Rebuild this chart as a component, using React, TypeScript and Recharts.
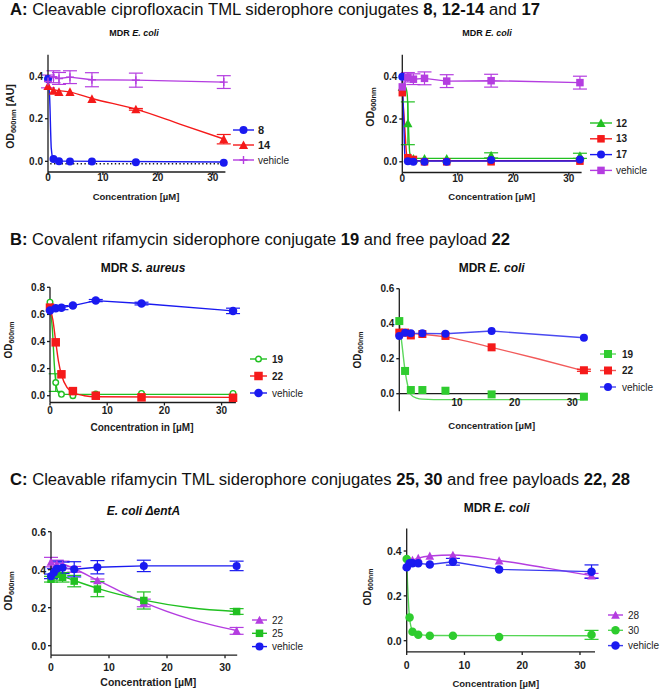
import { ComposedChart, Line, Scatter, XAxis, YAxis, ErrorBar, Legend, ReferenceLine } from "recharts";

const FONT = "'Liberation Sans', Arial, Helvetica, sans-serif";
const BLUE = "#1a1af0";
const RED = "#f51a1a";
const GREEN = "#21c021";
const PURPLE = "#b43de0";
const INK = "#1c1c1c";

// concentrations in µM
const CONC = [0, 1, 2, 4, 8, 16, 32];
const CONC_C = [0, 0.5, 1, 2, 4, 8, 16, 32];

// A left: MDR E. coli
const A1_8 = [0.386, 0.011, 0.0, -0.001, -0.001, -0.004, -0.007];
const A1_14 = [0.353, 0.331, 0.326, 0.326, 0.293, 0.244, 0.104];
const A1_14_ERR = [0, 0, 0, 0, 0, 0.004, 0.022];
const A1_VEH = [0.375, 0.397, 0.389, 0.395, 0.383, 0.381, 0.372];
const A1_VEH_ERR = [0.03, 0.028, 0.028, 0.03, 0.033, 0.033, 0.03];
const A1_FIT_8 = [[0, 0.386], [0.3, 0.3], [0.6, 0.06], [1, 0.006], [2, 0.001], [32, -0.003]];
const A1_DOT_8 = [[0.4, -0.011], [32, -0.011]];
const A1_FIT_14 = [[0, 0.34], [2, 0.332], [4, 0.325], [8, 0.295], [16, 0.245], [24, 0.175], [32, 0.105]];

// A right: MDR E. coli
const A2_12 = [0.35, 0.18, 0.015, 0.015, 0.015, 0.03, 0.028];
const A2_12_ERR = [0, 0.1, 0, 0, 0, 0.012, 0.012];
const A2_13 = [0.323, 0.019, 0.011, 0.0, 0.0, 0.0, 0.003];
const A2_17 = [0.397, 0.003, 0.0, 0.0, 0.0, 0.008, 0.011];
const A2_VEH = [0.35, 0.395, 0.386, 0.39, 0.377, 0.379, 0.37];
const A2_VEH_ERR = [0, 0.022, 0.025, 0.03, 0.03, 0.03, 0.03];
const A2_FIT_12 = [[0, 0.355], [0.6, 0.348], [0.9, 0.31], [1.1, 0.17], [1.35, 0.04], [2, 0.016], [32, 0.016]];
const A2_FIT_13 = [[0, 0.33], [0.4, 0.18], [0.75, 0.04], [1, 0.012], [2, 0.005], [32, 0.005]];
const A2_FIT_17 = [[0, 0.392], [0.25, 0.2], [0.5, 0.015], [1, 0.004], [32, 0.004]];

// B left: MDR S. aureus
const B1_19 = [0.69, 0.097, 0.01, 0.0, 0.012, 0.017, 0.017];
const B1_19_ERR = [0, 0.065, 0, 0, 0, 0, 0];
const B1_22 = [0.65, 0.394, 0.158, 0.034, 0.0, -0.012, -0.015];
const B1_VEH = [0.628, 0.645, 0.65, 0.665, 0.702, 0.68, 0.626];
const B1_VEH_ERR = [0, 0, 0.015, 0, 0.008, 0.01, 0.02];
const B1_FIT_19 = [[0, 0.665], [0.4, 0.5], [0.8, 0.2], [1.2, 0.05], [1.6, 0.015], [2.2, 0.01], [32, 0.01]];
const B1_FIT_22 = [[0, 0.645], [0.5, 0.56], [1, 0.4], [1.5, 0.25], [2, 0.155], [3, 0.06], [4, 0.025], [6, 0.0], [8, -0.008], [32, -0.012]];

// B right: MDR E. coli
const B2_19 = [0.415, 0.13, 0.021, 0.021, 0.017, -0.004, -0.017];
const B2_22 = [0.349, 0.349, 0.333, 0.341, 0.33, 0.265, 0.134];
const B2_22_ERR = [0, 0, 0, 0, 0, 0, 0.006];
const B2_VEH = [0.33, 0.349, 0.345, 0.345, 0.343, 0.358, 0.32];
const B2_FIT_19 = [[0, 0.41], [0.5, 0.27], [1, 0.13], [1.5, 0.04], [2, -0.005], [3, -0.025], [4, -0.031], [8, -0.034], [32, -0.034]];
const B2_FIT_22 = [[0, 0.347], [4, 0.34], [8, 0.325], [16, 0.265], [24, 0.2], [32, 0.13]];

// C left: E. coli ΔentA
const C1_22 = [0.44, 0.43, 0.425, 0.402, 0.343, 0.225, 0.078];
const C1_22_ERR = [0.025, 0.02, 0.02, 0.015, 0.008, 0.02, 0.018];
const C1_25 = [0.35, 0.375, 0.36, 0.34, 0.298, 0.238, 0.18];
const C1_25_ERR = [0.015, 0.03, 0.025, 0.03, 0.04, 0.045, 0.015];
const C1_VEH = [0.365, 0.385, 0.405, 0.41, 0.402, 0.413, 0.42, 0.42];
const C1_VEH_ERR = [0.012, 0.02, 0.04, 0.03, 0.04, 0.035, 0.03, 0.025];
const C1_FIT_22 = [[0, 0.44], [2, 0.43], [4, 0.405], [8, 0.345], [12, 0.285], [16, 0.228], [24, 0.14], [32, 0.08]];
const C1_FIT_25 = [[0, 0.38], [2, 0.365], [4, 0.343], [8, 0.302], [16, 0.24], [24, 0.2], [32, 0.18]];

// C right: MDR E. coli
const C2_28 = [0.335, 0.355, 0.36, 0.368, 0.378, 0.382, 0.357, 0.29];
const C2_28_ERR = [0, 0, 0, 0, 0, 0, 0, 0.01];
const C2_30 = [0.364, 0.104, 0.04, 0.027, 0.022, 0.022, 0.016, 0.026];
const C2_30_ERR = [0, 0, 0, 0, 0, 0, 0, 0.02];
const C2_VEH = [0.328, 0.345, 0.345, 0.345, 0.34, 0.352, 0.318, 0.308];
const C2_VEH_ERR = [0, 0, 0, 0, 0, 0.015, 0, 0.03];
const C2_FIT_28 = [[0, 0.34], [1, 0.358], [2, 0.368], [4, 0.378], [8, 0.382], [16, 0.358], [24, 0.325], [32, 0.29]];
const C2_FIT_30 = [[0, 0.362], [0.15, 0.25], [0.35, 0.15], [0.5, 0.1], [1, 0.045], [2, 0.028], [4, 0.023], [32, 0.022]];

type Pt = { x: number; y: number; e?: number };
type Shape = "circle" | "ring" | "square" | "triangle" | "plus";
type Series = {
  name: string;
  bold: boolean;
  color: string;
  line?: string;
  shape: Shape;
  size: number;
  pts: Pt[];
  fit: Pt[];
  curve: "monotone" | "linear";
  dots?: Pt[];
};
type Cfg = {
  box: { left: number; top: number; width: number; height: number };
  plot: { x0: number; x1: number; y0: number; y1: number };
  xMax: number;
  yMin: number;
  yMax: number;
  xTicks: number[];
  yTicks: number[];
  tickFont: number;
  xTickY: number;
  zeroTo?: number;
  yLabel: { x: number; y: number; size: number; sub: number; suffix: string };
  xLabel: { text: string; x: number; y: number; size: number };
  legend: { x: number; y: number; gap: number; len: number; tx: number; font: number };
  series: Series[];
};

const pts = (xs: number[], ys: number[], es?: number[]): Pt[] =>
  xs.map((x, i) => ({ x, y: ys[i], e: es && es[i] > 0 ? es[i] : undefined }));
const curve = (pairs: number[][]): Pt[] => pairs.map(([x, y]) => ({ x, y }));

const PANELS: Cfg[] = [
  {
    box: { left: 0, top: 40, width: 330, height: 175 },
    plot: { x0: 48, x1: 225.4, y0: 54.8, y1: 172 },
    xMax: 32.3, yMin: -0.05, yMax: 0.5, xTicks: [0, 10, 20, 30], yTicks: [0, 0.2, 0.4],
    tickFont: 10, xTickY: 177,
    yLabel: { x: 10, y: 116.5, size: 10.5, sub: 7.5, suffix: " [AU]" },
    xLabel: { text: "Concentration [µM]", x: 136, y: 199.5, size: 9.5 },
    legend: { x: 233, y: 130, gap: 15, len: 21, tx: 4, font: 11 },
    series: [
      { name: "8", bold: true, color: BLUE, shape: "circle", size: 8, pts: pts(CONC, A1_8), fit: curve(A1_FIT_8), curve: "monotone", dots: curve(A1_DOT_8) },
      { name: "14", bold: true, color: RED, shape: "triangle", size: 8, pts: pts(CONC, A1_14, A1_14_ERR), fit: curve(A1_FIT_14), curve: "monotone" },
      { name: "vehicle", bold: false, color: PURPLE, shape: "plus", size: 8, pts: pts(CONC, A1_VEH, A1_VEH_ERR), fit: pts(CONC, A1_VEH), curve: "linear" },
    ],
  },
  {
    box: { left: 340, top: 40, width: 321, height: 175 },
    plot: { x0: 402.3, x1: 581.6, y0: 54.8, y1: 172.5 },
    xMax: 32.3, yMin: -0.05, yMax: 0.5, xTicks: [0, 10, 20, 30], yTicks: [0, 0.2, 0.4],
    tickFont: 10, xTickY: 178.3,
    yLabel: { x: 370, y: 107, size: 10.5, sub: 7.5, suffix: "" },
    xLabel: { text: "Concentration [µM]", x: 491.7, y: 199.5, size: 9.5 },
    legend: { x: 590, y: 122.7, gap: 15.8, len: 22, tx: 4, font: 10 },
    series: [
      { name: "12", bold: true, color: GREEN, shape: "triangle", size: 8, pts: pts(CONC, A2_12, A2_12_ERR), fit: curve(A2_FIT_12), curve: "monotone" },
      { name: "13", bold: true, color: RED, shape: "square", size: 7.5, pts: pts(CONC, A2_13), fit: curve(A2_FIT_13), curve: "monotone" },
      { name: "17", bold: true, color: BLUE, shape: "circle", size: 8, pts: pts(CONC, A2_17), fit: curve(A2_FIT_17), curve: "monotone" },
      { name: "vehicle", bold: false, color: PURPLE, shape: "square", size: 7.5, pts: pts(CONC, A2_VEH, A2_VEH_ERR), fit: pts(CONC, A2_VEH), curve: "linear" },
    ],
  },
  {
    box: { left: 0, top: 255, width: 330, height: 185 },
    plot: { x0: 50, x1: 235.9, y0: 287.3, y1: 402.5 },
    xMax: 32.5, yMin: -0.05, yMax: 0.8, xTicks: [0, 10, 20, 30], yTicks: [0, 0.2, 0.4, 0.6, 0.8],
    tickFont: 10, xTickY: 410,
    yLabel: { x: 8, y: 340, size: 10, sub: 7, suffix: "" },
    xLabel: { text: "Concentration in [µM]", x: 142, y: 431, size: 10 },
    legend: { x: 250, y: 359, gap: 17, len: 17, tx: 5, font: 10 },
    series: [
      { name: "19", bold: true, color: GREEN, shape: "ring", size: 7, pts: pts(CONC, B1_19, B1_19_ERR), fit: curve(B1_FIT_19), curve: "monotone" },
      { name: "22", bold: true, color: RED, shape: "square", size: 8.5, pts: pts(CONC, B1_22), fit: curve(B1_FIT_22), curve: "monotone" },
      { name: "vehicle", bold: false, color: BLUE, shape: "circle", size: 8.5, pts: pts(CONC, B1_VEH, B1_VEH_ERR), fit: pts(CONC, B1_VEH), curve: "linear" },
    ],
  },
  {
    box: { left: 340, top: 255, width: 321, height: 185 },
    plot: { x0: 399.3, x1: 586.8, y0: 288.7, y1: 411.2 },
    xMax: 32.5, yMin: -0.1, yMax: 0.6, xTicks: [10, 20, 30], yTicks: [0, 0.2, 0.4, 0.6],
    tickFont: 10, xTickY: 402, zeroTo: 31.4,
    yLabel: { x: 357, y: 350, size: 10, sub: 7, suffix: "" },
    xLabel: { text: "Concentration [µM]", x: 491.7, y: 429, size: 9.5 },
    legend: { x: 600, y: 354, gap: 16.5, len: 16, tx: 6, font: 10 },
    series: [
      { name: "19", bold: true, color: "#2fcc2f", line: "#5cd85c", shape: "square", size: 8, pts: pts(CONC, B2_19), fit: curve(B2_FIT_19), curve: "monotone" },
      { name: "22", bold: true, color: RED, line: "#f25a5a", shape: "square", size: 8, pts: pts(CONC, B2_22, B2_22_ERR), fit: curve(B2_FIT_22), curve: "monotone" },
      { name: "vehicle", bold: false, color: BLUE, line: "#4a4af0", shape: "circle", size: 8, pts: pts(CONC, B2_VEH), fit: pts(CONC, B2_VEH), curve: "linear" },
    ],
  },
  {
    box: { left: 0, top: 520, width: 330, height: 171 },
    plot: { x0: 51, x1: 237.2, y0: 531.7, y1: 655.2 },
    xMax: 32.1, yMin: -0.05, yMax: 0.6, xTicks: [0, 10, 20, 30], yTicks: [0, 0.2, 0.4, 0.6],
    tickFont: 10.5, xTickY: 667.3,
    yLabel: { x: 8, y: 591, size: 10.5, sub: 7.5, suffix: "" },
    xLabel: { text: "Concentration [µM]", x: 148.3, y: 685.5, size: 10.5 },
    legend: { x: 252, y: 620, gap: 13.3, len: 15, tx: 5, font: 10 },
    series: [
      { name: "22", bold: false, color: PURPLE, shape: "triangle", size: 7.5, pts: pts(CONC, C1_22, C1_22_ERR), fit: curve(C1_FIT_22), curve: "monotone" },
      { name: "25", bold: false, color: GREEN, shape: "square", size: 7.5, pts: pts(CONC, C1_25, C1_25_ERR), fit: curve(C1_FIT_25), curve: "monotone" },
      { name: "vehicle", bold: false, color: BLUE, shape: "circle", size: 8, pts: pts(CONC_C, C1_VEH, C1_VEH_ERR), fit: pts(CONC_C, C1_VEH), curve: "linear" },
    ],
  },
  {
    box: { left: 340, top: 520, width: 321, height: 171 },
    plot: { x0: 406.7, x1: 595, y0: 528.6, y1: 651.9 },
    xMax: 32.6, yMin: -0.05, yMax: 0.5, xTicks: [0, 10, 20, 30], yTicks: [0, 0.2, 0.4],
    tickFont: 10.5, xTickY: 665,
    yLabel: { x: 367, y: 587, size: 10, sub: 7, suffix: "" },
    xLabel: { text: "Concentration [µM]", x: 495.8, y: 686.5, size: 9.5 },
    legend: { x: 608, y: 615, gap: 15.3, len: 15, tx: 5, font: 10 },
    series: [
      { name: "28", bold: false, color: PURPLE, shape: "triangle", size: 7.5, pts: pts(CONC_C, C2_28, C2_28_ERR), fit: curve(C2_FIT_28), curve: "monotone" },
      { name: "30", bold: false, color: "#2ecc2e", line: "#55d655", shape: "circle", size: 8.5, pts: pts(CONC_C, C2_30, C2_30_ERR), fit: curve(C2_FIT_30), curve: "monotone" },
      { name: "vehicle", bold: false, color: BLUE, line: "#3b3bf0", shape: "circle", size: 8.5, pts: pts(CONC_C, C2_VEH, C2_VEH_ERR), fit: pts(CONC_C, C2_VEH), curve: "linear" },
    ],
  },
];

type Part = { t: string; b?: boolean; i?: boolean };
const SECTIONS: { x: number; y: number; len: number; parts: Part[] }[] = [
  { x: 10, y: 15, len: 530, parts: [{ t: "A:", b: true }, { t: " Cleavable ciprofloxacin TML siderophore conjugates " }, { t: "8, 12-14", b: true }, { t: " and " }, { t: "17", b: true }] },
  { x: 10, y: 245, len: 500, parts: [{ t: "B:", b: true }, { t: " Covalent rifamycin siderophore conjugate " }, { t: "19", b: true }, { t: " and free payload " }, { t: "22", b: true }] },
  { x: 10, y: 485, len: 620, parts: [{ t: "C:", b: true }, { t: " Cleavable rifamycin TML siderophore conjugates " }, { t: "25, 30", b: true }, { t: " and free payloads " }, { t: "22, 28", b: true }] },
];
const PANEL_TITLES: { x: number; y: number; size: number; parts: Part[] }[] = [
  { x: 134, y: 36, size: 9, parts: [{ t: "MDR " }, { t: "E. coli", i: true }] },
  { x: 487, y: 36, size: 9, parts: [{ t: "MDR " }, { t: "E. coli", i: true }] },
  { x: 143, y: 272, size: 12, parts: [{ t: "MDR " }, { t: "S. aureus", i: true }] },
  { x: 491.7, y: 272, size: 12, parts: [{ t: "MDR " }, { t: "E. coli", i: true }] },
  { x: 143.5, y: 515, size: 12, parts: [{ t: "E. coli ΔentA", i: true }] },
  { x: 496.7, y: 512, size: 12, parts: [{ t: "MDR " }, { t: "E. coli", i: true }] },
];

function Marker({ shape, cx, cy, color, s }: { shape: Shape; cx: number; cy: number; color: string; s: number }) {
  const h = s / 2;
  if (shape === "circle") return <circle cx={cx} cy={cy} r={h} fill={color} />;
  if (shape === "ring") return <circle cx={cx} cy={cy} r={h - 0.7} fill="#fff" stroke={color} strokeWidth={1.4} />;
  if (shape === "square") return <rect x={cx - h} y={cy - h} width={s} height={s} fill={color} />;
  if (shape === "triangle")
    return <polygon points={`${cx},${cy - h - 0.6} ${cx + h + 0.6},${cy + h} ${cx - h - 0.6},${cy + h}`} fill={color} />;
  return <path d={`M${cx - h},${cy}H${cx + h}M${cx},${cy - h}V${cy + h}`} stroke={color} strokeWidth={1.4} />;
}

function LegendBox({ c }: { c: Cfg }) {
  const L = c.legend;
  return (
    <svg width={100} height={L.gap * c.series.length + 12} style={{ display: "block", overflow: "visible" }}>
      {c.series.map((s, i) => {
        const y = 6 + i * L.gap;
        return (
          <g key={s.name}>
            <line x1={0} x2={L.len} y1={y} y2={y} stroke={s.line ?? s.color} strokeWidth={1.4} />
            <Marker shape={s.shape} cx={L.len / 2} cy={y} color={s.color} s={s.size} />
            <text x={L.len + L.tx} y={y} dominantBaseline="central" fontSize={s.bold ? L.font : 10}
              fontWeight={s.bold ? "bold" : "normal"} fill={INK} fontFamily={FONT}>
              {s.name}
            </text>
          </g>
        );
      })}
    </svg>
  );
}

function Panel({ c }: { c: Cfg }) {
  const { box, plot } = c;
  const xh = 20;
  const margin = {
    top: plot.y0 - box.top,
    right: box.left + box.width - plot.x1,
    bottom: box.top + box.height - plot.y1 - xh,
    left: 0,
  };
  const yw = plot.x0 - box.left;
  const axis = { stroke: INK, strokeWidth: 1.3 };

  const xTick = (p: any) => (
    <text x={p.x} y={c.xTickY - box.top} textAnchor="middle" dominantBaseline="central"
      fontSize={c.tickFont} fontWeight="bold" fill={INK}>
      {p.payload.value}
    </text>
  );
  const yTick = (p: any) => (
    <text x={yw - 5} y={p.y} textAnchor="end" dominantBaseline="central"
      fontSize={c.tickFont} fontWeight="bold" fill={INK}>
      {Number(p.payload.value).toFixed(1)}
    </text>
  );
  const yl = c.yLabel;
  const yLabel = () => {
    const x = yl.x - box.left;
    const y = yl.y - box.top;
    const d = yl.size * 0.3;
    return (
      <text x={x} y={y} transform={`rotate(-90 ${x} ${y})`} textAnchor="middle" dominantBaseline="central"
        fontSize={yl.size} fontWeight="bold" fill={INK}>
        OD<tspan fontSize={yl.sub} dy={d}>600nm</tspan>
        {yl.suffix ? <tspan dy={-d}>{yl.suffix}</tspan> : null}
      </text>
    );
  };
  const xLabel = () => (
    <text x={c.xLabel.x - box.left} y={c.xLabel.y - box.top} textAnchor="middle"
      fontSize={c.xLabel.size} fontWeight="bold" fill={INK}>
      {c.xLabel.text}
    </text>
  );

  return (
    <div style={{ position: "absolute", left: box.left, top: box.top }}>
      <ComposedChart width={box.width} height={box.height} margin={margin}>
        <XAxis type="number" dataKey="x" domain={[0, c.xMax]} ticks={c.xTicks} interval={0} height={xh}
          axisLine={c.zeroTo ? false : axis} tickLine={c.zeroTo ? false : axis} tickSize={3}
          tick={xTick} label={{ content: xLabel }} />
        <YAxis type="number" dataKey="y" domain={[c.yMin, c.yMax]} ticks={c.yTicks} interval={0} width={yw}
          axisLine={axis} tickLine={axis} tickSize={3} tick={yTick} label={{ content: yLabel }} />
        {c.zeroTo ? (
          <ReferenceLine segment={[{ x: 0, y: 0 }, { x: c.zeroTo, y: 0 }]} stroke={INK} strokeWidth={1.3} />
        ) : null}
        {c.series.map((s) => (
          <Line key={"f" + s.name} data={s.fit} dataKey="y" type={s.curve} stroke={s.line ?? s.color}
            strokeWidth={1.4} dot={false} activeDot={false} legendType="none" isAnimationActive={false} />
        ))}
        {c.series.filter((s) => s.dots).map((s) => (
          <Line key={"d" + s.name} data={s.dots} dataKey="y" type="linear" stroke={INK} strokeWidth={1.4}
            strokeDasharray="1.4 2.4" dot={false} activeDot={false} legendType="none" isAnimationActive={false} />
        ))}
        {c.series.map((s) => (
          <Scatter key={"e" + s.name} data={s.pts.filter((p) => p.e)} dataKey="y" legendType="none"
            isAnimationActive={false} shape={() => <g />}>
            <ErrorBar dataKey="e" direction="y" width={7} stroke={s.color} strokeWidth={1.2} />
          </Scatter>
        ))}
        {c.series.map((s) => (
          <Scatter key={"m" + s.name} name={s.name} data={s.pts} dataKey="y" isAnimationActive={false}
            shape={(p: any) => <Marker shape={s.shape} cx={p.cx} cy={p.cy} color={s.color} s={s.size} />} />
        ))}
        <Legend layout="horizontal" verticalAlign="middle" align="center"
          wrapperStyle={{ left: c.legend.x - box.left, top: c.legend.y - 6 - box.top, width: 100 }}
          content={() => <LegendBox c={c} />} />
      </ComposedChart>
    </div>
  );
}

export default function App() {
  return (
    <div style={{ position: "absolute", left: 0, top: 0, width: 661, height: 691, background: "#fff", fontFamily: FONT, overflow: "hidden" }}>
      {PANELS.map((c, i) => (
        <Panel key={i} c={c} />
      ))}
      <svg width={661} height={691} style={{ position: "absolute", left: 0, top: 0, pointerEvents: "none" }}>
        {SECTIONS.map((s, i) => (
          <text key={i} x={s.x} y={s.y} fontSize={16} fill="#111" textLength={s.len} lengthAdjust="spacingAndGlyphs">
            {s.parts.map((p, j) => (
              <tspan key={j} fontWeight={p.b ? "bold" : "normal"}>{p.t}</tspan>
            ))}
          </text>
        ))}
        {PANEL_TITLES.map((s, i) => (
          <text key={i} x={s.x} y={s.y} fontSize={s.size} fontWeight="bold" textAnchor="middle" fill="#111">
            {s.parts.map((p, j) => (
              <tspan key={j} fontStyle={p.i ? "italic" : "normal"}>{p.t}</tspan>
            ))}
          </text>
        ))}
      </svg>
    </div>
  );
}
